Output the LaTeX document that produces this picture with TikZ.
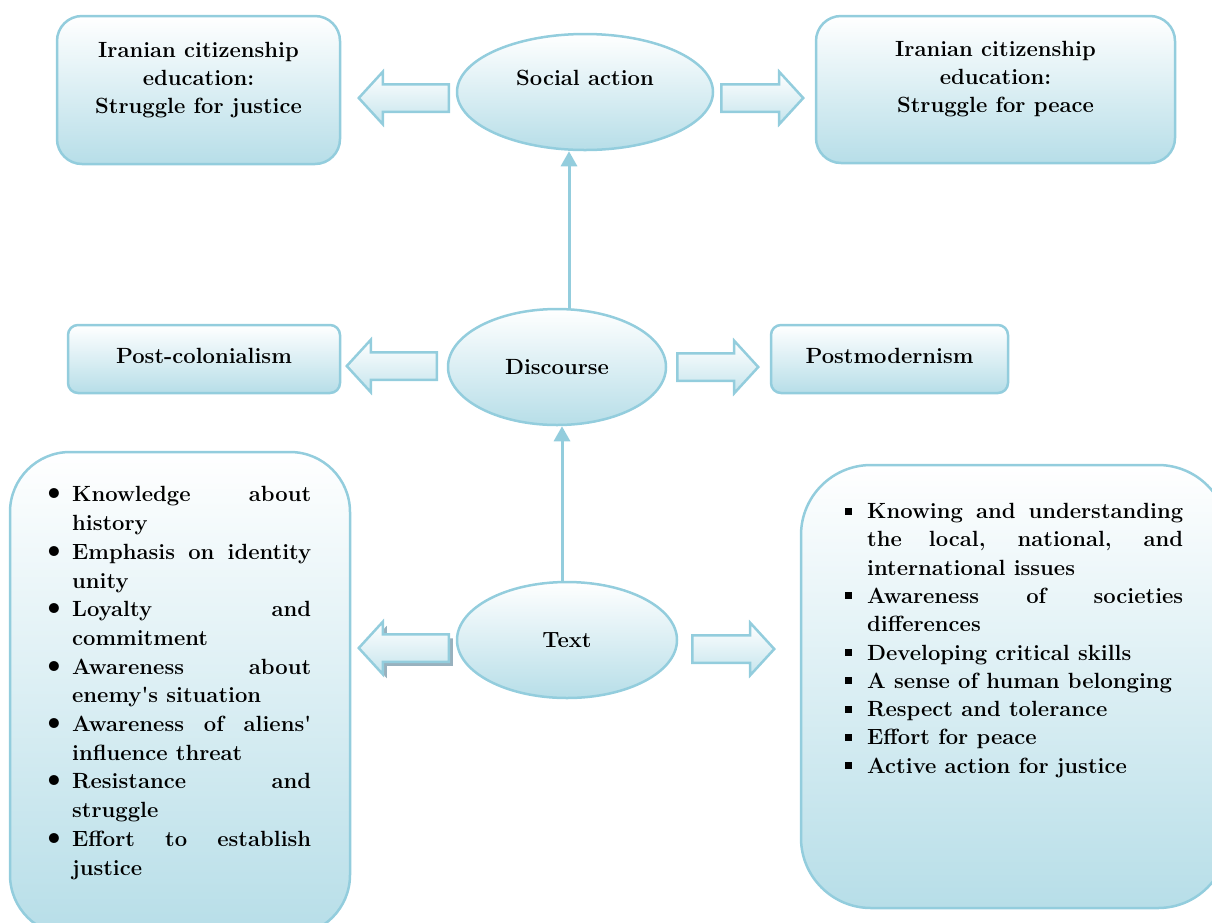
\documentclass[tikz,border=0pt]{standalone}
\usepackage{fontspec}
\usetikzlibrary{shapes.geometric,shapes.arrows,arrows.meta,shadows,backgrounds}
\definecolor{aqualine}{HTML}{93CDDD}
\definecolor{aquafill}{HTML}{B7DEE8}
\definecolor{arrowshade}{HTML}{7E9EAE}
\hbadness=10000

\newcommand\dotitem[1]{\par\hangindent=24pt\hangafter=1\noindent\makebox[24pt][l]{\hspace*{-9pt}\fontsize{34}{28}\selectfont\textbullet}#1}
\newcommand\sqitem[1]{\par\hangindent=22pt\hangafter=1\noindent\makebox[22pt][l]{\rule[4pt]{7pt}{7pt}}#1}

\tikzset{
    panel/.style={draw=aqualine, line width=2.5pt, top color=white, bottom color=aquafill, rounded corners=#1},
    panel/.default=10pt,
    bubble/.style={ellipse, draw=aqualine, line width=2.5pt, top color=white, bottom color=aquafill},
    heading/.style={font=\bfseries\fontsize{22}{28}\selectfont, align=center},
    listtext/.style={font=\bfseries\fontsize{22}{#1}\selectfont, align=justify, inner sep=0pt, anchor=north west},
    blockarrow/.style={single arrow, draw=aqualine, line width=2.5pt, top color=white, bottom color=aquafill!80,
        inner xsep=0pt, inner ysep=12.5pt, single arrow head extend=12.5pt, single arrow tip angle=95, minimum height=#1, anchor=tail},
    link/.style={aqualine, line width=3pt, -{Triangle[width=16pt,length=15pt]}},
}

\begin{document}
\begin{tikzpicture}[x=1pt, y=-1pt]

    \useasboundingbox (0,0) rectangle (1212,922);
    \clip (0,0) rectangle (1212,922);

    % Social action
        %% citizenship education boxes
        \node[panel=25pt, minimum width=283, minimum height=148, heading, text depth=25pt] (justice) at (198.5,90)
            {Iranian citizenship\\education:\\Struggle for justice};
        \node[panel=25pt, minimum width=359, minimum height=147, heading, text depth=25pt] (peace) at (995.5,89.5)
            {Iranian citizenship\\education:\\Struggle for peace};

        %% ellipse
        \node[bubble, minimum width=256, minimum height=116, heading, text depth=29pt] (social) at (585,92) {Social action};

        %% block arrows
        \node[blockarrow=90, shape border rotate=180] (toJustice) at (450,98) {};
        \node[blockarrow=82] (toPeace) at (720,98) {};

    % Discourse
        \node[panel, minimum width=272, minimum height=68, heading, text depth=7pt] (postcol) at (204,359) {Post-colonialism};
        \node[panel, minimum width=237, minimum height=68, heading, text depth=7pt] (postmod) at (889.5,359) {Postmodernism};
        \node[bubble, minimum width=218, minimum height=116, heading] (discourse) at (557,367) {Discourse};

        \node[blockarrow=90, shape border rotate=180] (toPostcol) at (438,366) {};
        \node[blockarrow=81] (toPostmod) at (676,367) {};

    % Text
        %% list panels
        \node[panel=60pt, minimum width=340, minimum height=483] (historyPanel) at (180,693.5) {};
        \node[listtext=28.7, text width=263pt] (historyList) at (48,473) {%
            \dotitem{Knowledge about\linebreak history}
            \dotitem{Emphasis on identity\linebreak unity}
            \dotitem{Loyalty and\linebreak commitment}
            \dotitem{Awareness about\linebreak enemy\textquotesingle s situation}
            \dotitem{Awareness of aliens\textquotesingle\linebreak influence threat}
            \dotitem{Resistance and\linebreak struggle}
            \dotitem{Effort to establish\linebreak justice}\par};

        \node[panel=70pt, minimum width=427, minimum height=443] (globalPanel) at (1014.5,686.5) {};
        \node[listtext=28.3, text width=338pt] (globalList) at (845,490) {%
            \sqitem{Knowing and understanding\linebreak the local, national, and\linebreak international issues}
            \sqitem{Awareness of societies\linebreak differences}
            \sqitem{Developing critical skills}
            \sqitem{A sense of human belonging}
            \sqitem{Respect and tolerance}
            \sqitem{Effort for peace}
            \sqitem{Active action for justice}\par};

        %% ellipse
        \node[bubble, minimum width=220, minimum height=116, heading] (txt) at (567,640) {Text};

        \node[blockarrow=90, shape border rotate=180,
              drop shadow={shadow xshift=4pt, shadow yshift=-4pt, fill=arrowshade, opacity=.8}] (toHistory) at (450,648) {};
        \node[blockarrow=82] (toGlobal) at (691,649) {};

    % links
    \begin{scope}[on background layer]
        \draw[link] ([xshift=-5]txt.north) -- ([xshift=5]discourse.south);
        \draw[link] ([xshift=12]discourse.north) -- ([xshift=-16]social.south);
    \end{scope}

\end{tikzpicture}
\end{document}
